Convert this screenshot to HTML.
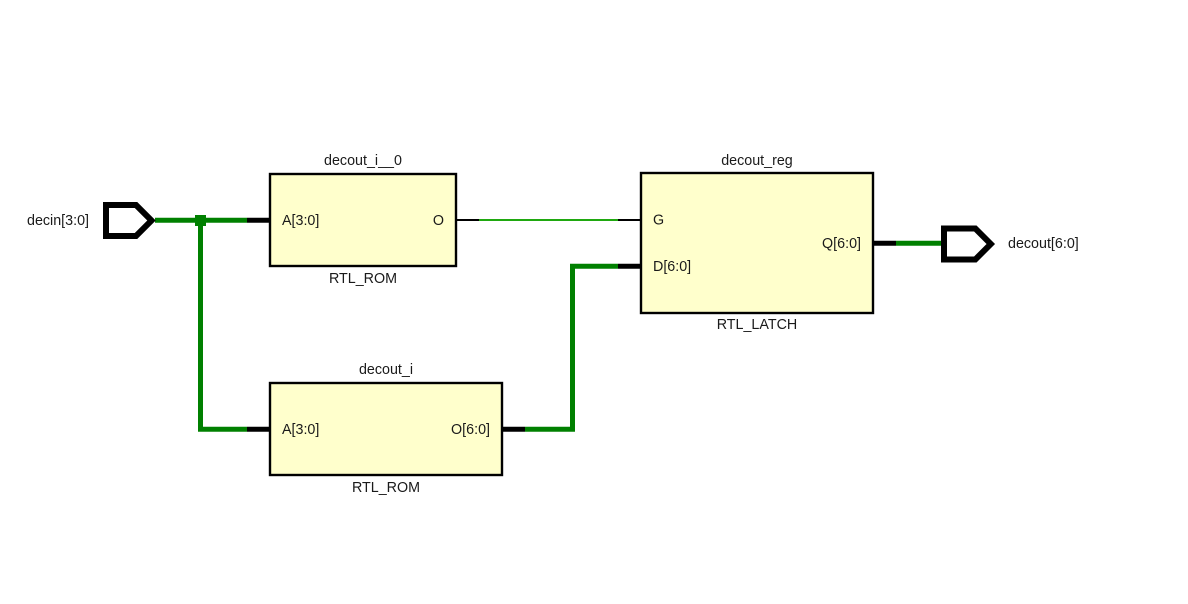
<!DOCTYPE html>
<html>
<head>
<meta charset="utf-8">
<style>
html,body{margin:0;padding:0;background:#fff;width:1188px;height:604px;overflow:hidden}
svg{display:block}
text{font-family:"Liberation Sans",sans-serif;font-size:14.3px;fill:#1a1a1a}
</style>
</head>
<body>
<svg width="1188" height="604" viewBox="0 0 1188 604" xmlns="http://www.w3.org/2000/svg">
<rect width="1188" height="604" fill="#fff"/>
<g fill="#ffffcc" stroke="#000" stroke-width="2.4">
<rect x="270" y="174" width="186" height="92"/>
<rect x="270" y="383" width="232" height="92"/>
<rect x="641" y="173" width="232" height="140"/>
</g>
<g fill="none" stroke="#008000" stroke-width="5">
<path d="M155 220.3H247"/>
<path d="M200.5 220V429.3H247"/>
<path d="M525 429.3H572.5V266.3H618"/>
<path d="M896 243.3H943"/>
</g>
<rect x="195" y="215" width="11" height="11" fill="#008000"/>
<g stroke="#000" stroke-width="5" fill="none">
<path d="M247 220.3H269"/>
<path d="M247 429.3H269"/>
<path d="M503 429.3H525"/>
<path d="M618 266.3H640"/>
<path d="M874 243.3H896"/>
</g>
<path d="M457 220H479M618 220H640" stroke="#000" stroke-width="2" fill="none"/>
<path d="M479 220H618" stroke="#1fa80f" stroke-width="2" fill="none"/>
<g fill="none" stroke="#000" stroke-width="6" stroke-linejoin="miter">
<path d="M106 205H136L151.5 220.5L136 236H106Z"/>
<path d="M944 228.5H975.3L990.8 244L975.3 259.5H944Z"/>
</g>
<text x="27" y="225">decin[3:0]</text>
<text x="1008" y="248">decout[6:0]</text>
<text x="363" y="165" text-anchor="middle">decout_i__0</text>
<text x="363" y="283" text-anchor="middle">RTL_ROM</text>
<text x="282" y="225">A[3:0]</text>
<text x="444" y="225" text-anchor="end">O</text>
<text x="386" y="374" text-anchor="middle">decout_i</text>
<text x="386" y="492" text-anchor="middle">RTL_ROM</text>
<text x="282" y="434">A[3:0]</text>
<text x="490" y="434" text-anchor="end">O[6:0]</text>
<text x="757" y="165" text-anchor="middle">decout_reg</text>
<text x="757" y="329" text-anchor="middle">RTL_LATCH</text>
<text x="653" y="224.5">G</text>
<text x="653" y="271">D[6:0]</text>
<text x="861" y="248" text-anchor="end">Q[6:0]</text>
</svg>
</body>
</html>
